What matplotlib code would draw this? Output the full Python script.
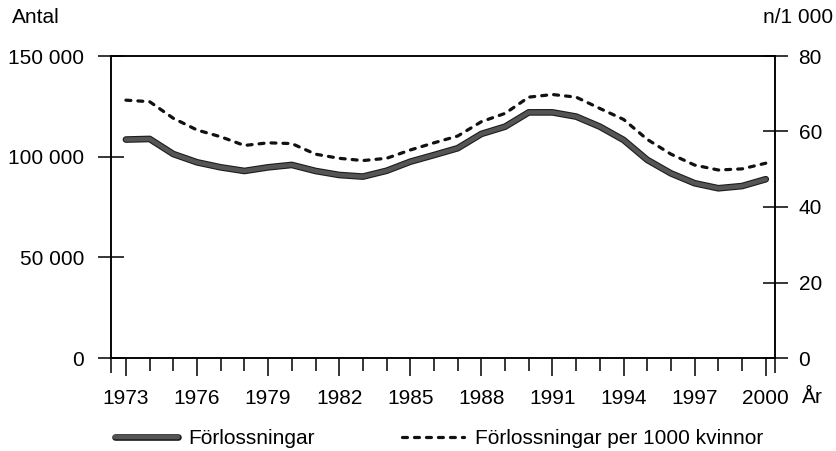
import matplotlib
matplotlib.use('Agg')
import matplotlib.pyplot as plt
import matplotlib.patheffects as pe
from matplotlib.ticker import FixedLocator

plt.rcParams['font.family'] = ['Liberation Sans', 'DejaVu Sans']

years = list(range(1973, 2001))
deliveries = [108500, 108800, 101300, 97200, 94700, 92900, 94700, 95900, 92900, 90900,
              90100, 93000, 97500, 100800, 104200, 111300, 114900, 122000, 122000, 119900,
              114900, 108300, 98400, 91700, 86800, 84300, 85400, 88800]
per_1000 = [68.3, 67.9, 63.5, 60.4, 58.6, 56.3, 57.0, 56.8, 54.0, 52.9,
            52.3, 52.9, 55.1, 57.0, 58.8, 62.6, 64.8, 69.1, 69.8, 69.1,
            66.1, 63.2, 57.9, 54.0, 51.1, 49.8, 50.1, 51.6]

left_ticks = [0, 50000, 100000, 150000]
left_labels = ['0', '50 000', '100 000', '150 000']
right_ticks = [0, 20, 40, 60, 80]
right_labels = ['0', '20', '40', '60', '80']
x_major = list(range(1973, 2001, 3))
x_major_labels = [str(y) for y in x_major]

series_labels = ['Förlossningar', 'Förlossningar per 1000 kvinnor']

FS = 15
fig = plt.figure(figsize=(8.37, 4.51), dpi=100)
ax = fig.add_axes([111/837, 1-358/451, (775-111)/837, (358-56)/451])
ax2 = ax.twinx()

l1, = ax.plot(years, deliveries, color='#555555', lw=3.2, solid_capstyle='round',
              label=series_labels[0],
              path_effects=[pe.Stroke(linewidth=4.8, foreground='#1c1c1c'), pe.Normal()])
l2, = ax2.plot(years, per_1000, color='#111111', lw=2.3, linestyle=(0, (1.55, 2.2)),
               dash_capstyle='round', label=series_labels[1])

ax.set_xlim(1972.37, 2000.39)
ax.set_ylim(0, 150000)
ax2.set_ylim(0, 80)

for a in (ax, ax2):
    for s in a.spines.values():
        s.set_linewidth(1.1)
        s.set_color('black')

ax.yaxis.set_major_locator(FixedLocator(left_ticks))
ax.set_yticklabels(left_labels)
ax.tick_params(axis='y', direction='inout', length=19, width=1.1, pad=10, labelsize=FS)

ax2.yaxis.set_major_locator(FixedLocator(right_ticks))
ax2.set_yticklabels(right_labels)
ax2.tick_params(axis='y', direction='inout', length=18, width=1.1, pad=8, labelsize=FS)

ax.xaxis.set_major_locator(FixedLocator(x_major))
ax.set_xticklabels(x_major_labels)
ax.xaxis.set_minor_locator(FixedLocator(years))
ax.tick_params(axis='x', which='major', direction='out', length=13, width=1.1, pad=9, labelsize=FS)
ax.tick_params(axis='x', which='minor', direction='out', length=9.5, width=1.1)

# spine extensions below the x axis
for xp in (0, 1):
    ax.plot([xp, xp], [0, -15/302], transform=ax.transAxes, color='black', lw=1.1,
            clip_on=False, solid_capstyle='butt')

fig.text(12/837, 1-23/451, 'Antal', fontsize=FS, ha='left', va='baseline')
fig.text(833/837, 1-23/451, 'n/1 000', fontsize=FS, ha='right', va='baseline')
fig.text(802/837, 1-403/451, 'År', fontsize=FS, ha='left', va='baseline')

fig.legend(handles=[l1, l2], loc='center left', bbox_to_anchor=(115/837, 1-439/451),
           ncol=2, frameon=False, fontsize=FS, handlelength=3.0, handletextpad=0.5,
           columnspacing=4.2, borderpad=0, borderaxespad=0)

fig.savefig('out.png', dpi=100)
